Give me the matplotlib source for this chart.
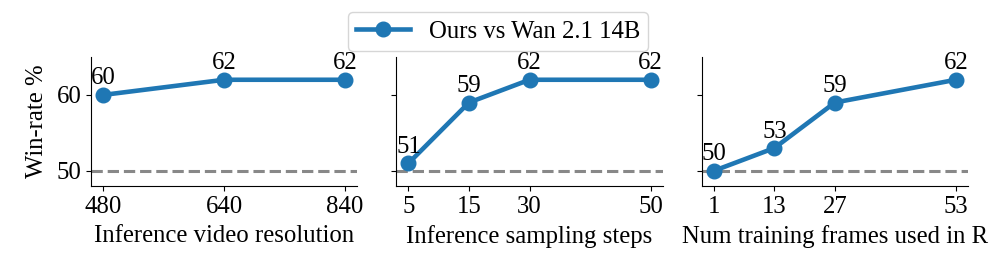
import matplotlib
matplotlib.use("Agg")
import matplotlib.pyplot as plt

plt.rcParams['font.family'] = ['Liberation Serif', 'DejaVu Serif']

# Data
res_labels = ["480", "640", "840"]
res_pos = [0, 1, 2]
res_win = [60, 62, 62]

steps_labels = ["5", "15", "30", "50"]
steps_pos = [0, 1, 2, 4]
steps_win = [51, 59, 62, 62]

frames_labels = ["1", "13", "27", "53"]
frames_pos = [0, 1, 2, 4]
frames_win = [50, 53, 59, 62]

xlabels = ["Inference video resolution", "Inference sampling steps", "Num training frames used in R"]
series_label = "Ours vs Wan 2.1 14B"
baseline = 50

panels = [(res_pos, res_win, res_labels),
          (steps_pos, steps_win, steps_labels),
          (frames_pos, frames_win, frames_labels)]

W, H = 996, 277
fig, axes = plt.subplots(1, 3, figsize=(W / 100, H / 100), dpi=100, sharey=True)
fig.subplots_adjust(left=91 / W, right=968 / W, bottom=1 - 186 / H, top=1 - 57 / H, wspace=0.147)

color = '#1f77b4'
fs = 17.8
for ax, (pos, win, labels), xl in zip(axes, panels, xlabels):
    ln, = ax.plot(pos, win, '-o', color=color, lw=3.3, ms=10.5, label=series_label, zorder=3)
    ax.axhline(baseline, color='#888888', ls='--', lw=2.2, zorder=1)
    for x, y in zip(pos, win):
        ax.annotate(f"{y}", (x, y), xytext=(0, 4), textcoords='offset points',
                    ha='center', va='bottom', fontsize=fs)
    ax.set_xticks(pos)
    ax.set_xticklabels(labels, fontsize=fs)
    ax.set_xlabel(xl, fontsize=fs, labelpad=5)
    ax.spines['top'].set_visible(False)
    ax.spines['right'].set_visible(False)
    ax.tick_params(labelsize=fs)

axes[0].set_ylim(48, 65)
axes[0].set_yticks([50, 60])
axes[0].set_ylabel("Win-rate %", fontsize=fs, labelpad=6)

handles, lbls = axes[0].get_legend_handles_labels()
fig.legend(handles, lbls, loc='upper center', bbox_to_anchor=(0.5, 1.0), fontsize=fs,
           frameon=True, handlelength=2.2, borderpad=0.33, handletextpad=0.75)

fig.savefig("out.png", dpi=100)
